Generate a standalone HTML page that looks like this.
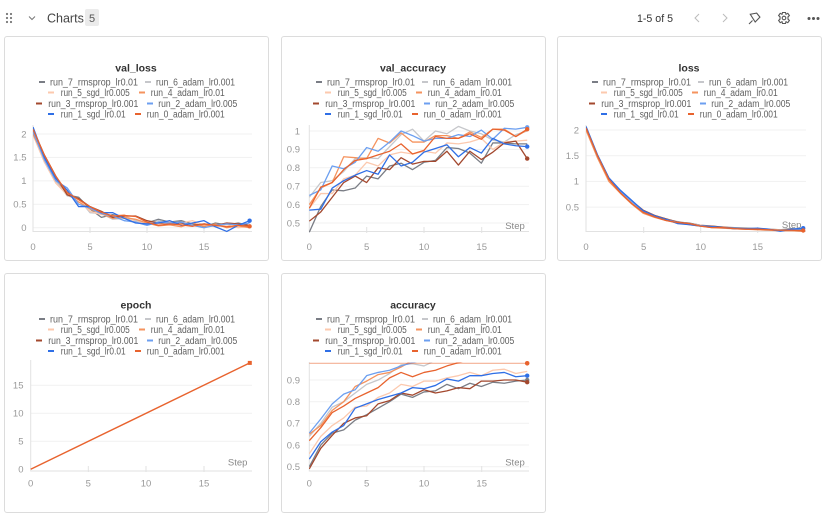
<!DOCTYPE html>
<html><head><meta charset="utf-8">
<style>
html,body{margin:0;padding:0;background:#fff;width:833px;height:493px;overflow:hidden;}
.p{position:absolute;box-sizing:border-box;width:265px;border:1px solid #dcdcdc;border-radius:3px;background:#fff;}
svg{position:absolute;left:0;top:0;}
text{font-family:"Liberation Sans",sans-serif;}
.lg{font-size:10px;fill:#5f5f5f;}
.tt{font-size:10.5px;font-weight:bold;fill:#333;}
.tk{font-size:9.5px;fill:#999;}
.st{font-size:9.5px;fill:#888;}
.d{fill:none;stroke-width:1.3;vector-effect:non-scaling-stroke;stroke-linejoin:round;}
</style></head>
<body>
<div class="p" style="left:4px;top:36px;height:225px"></div>
<div class="p" style="left:281px;top:36px;height:225px"></div>
<div class="p" style="left:557px;top:36px;height:225px"></div>
<div class="p" style="left:4px;top:273px;height:240px"></div>
<div class="p" style="left:281px;top:273px;height:240px"></div>

<svg width="833" height="493" viewBox="0 0 833 493" xmlns="http://www.w3.org/2000/svg">
<defs>
<clipPath id="c1"><rect x="33" y="120" width="221" height="113"/></clipPath>
<clipPath id="c2"><rect x="309" y="120" width="222" height="113"/></clipPath>
<clipPath id="c3"><rect x="586" y="120" width="222" height="113"/></clipPath>
<clipPath id="c4"><rect x="30" y="355" width="224" height="118"/></clipPath>
<clipPath id="c5"><rect x="309" y="362.5" width="222" height="110"/></clipPath>
</defs>

<!-- header -->
<g fill="#777">
<circle cx="7" cy="14" r="1.1"/><circle cx="11" cy="14" r="1.1"/>
<circle cx="7" cy="18" r="1.1"/><circle cx="11" cy="18" r="1.1"/>
<circle cx="7" cy="22" r="1.1"/><circle cx="11" cy="22" r="1.1"/>
</g>
<polyline points="29,16.5 32,19.5 35,16.5" fill="none" stroke="#777" stroke-width="1"/>
<text x="47" y="22.5" style="font-size:12.5px;fill:#444">Charts</text>
<rect x="85" y="9" width="14" height="17" rx="2" fill="#ebebeb"/>
<text x="92" y="22" text-anchor="middle" style="font-size:11px;fill:#555">5</text>
<text x="637" y="22" style="font-size:11px;fill:#333" textLength="36" lengthAdjust="spacingAndGlyphs">1-5 of 5</text>
<polyline points="699,14 695,18 699,22" fill="none" stroke="#bbb" stroke-width="1"/>
<polyline points="723,14 727,18 723,22" fill="none" stroke="#bbb" stroke-width="1"/>
<g fill="none" stroke="#555" stroke-width="1.1">
<path d="M751,13.5 L757.5,13.5 L760,18 L754.5,22 Z" transform="rotate(-10 755 18)"/>
<line x1="749" y1="24" x2="752.5" y2="20.5"/>
<path d="M782.5,12.5 L785.5,12.5 L786,14.3 L787.8,13.3 L789.4,15.5 L788,16.8 L788,19.2 L789.4,20.5 L787.8,22.7 L786,21.7 L785.5,23.5 L782.5,23.5 L782,21.7 L780.2,22.7 L778.6,20.5 L780,19.2 L780,16.8 L778.6,15.5 L780.2,13.3 L782,14.3 Z"/>
<circle cx="784" cy="18" r="1.8"/>
</g>
<g fill="#555"><circle cx="809" cy="18.5" r="1.5"/><circle cx="813.5" cy="18.5" r="1.5"/><circle cx="818" cy="18.5" r="1.5"/></g>

<!-- ============ PANEL 1 val_loss ============ -->
<g>
<text class="tt" x="136" y="71.5" text-anchor="middle">val_loss</text>
<rect x="39" y="81" width="6" height="2" fill="#7a7d85"/><text class="lg" x="50" y="85.5" textLength="88" lengthAdjust="spacingAndGlyphs">run_7_rmsprop_lr0.01</text>
<rect x="145" y="81" width="6" height="2" fill="#c6c7cb"/><text class="lg" x="156" y="85.5" textLength="79" lengthAdjust="spacingAndGlyphs">run_6_adam_lr0.001</text>
<rect x="48" y="91.5" width="6" height="2" fill="#fcc9ae"/><text class="lg" x="60.7" y="96" textLength="69" lengthAdjust="spacingAndGlyphs">run_5_sgd_lr0.005</text>
<rect x="139" y="91.5" width="6" height="2" fill="#f5935e"/><text class="lg" x="150.7" y="96" textLength="74" lengthAdjust="spacingAndGlyphs">run_4_adam_lr0.01</text>
<rect x="36" y="102.5" width="6" height="2" fill="#a3482e"/><text class="lg" x="48.3" y="107" textLength="90" lengthAdjust="spacingAndGlyphs">run_3_rmsprop_lr0.001</text>
<rect x="147" y="102.5" width="6" height="2" fill="#6c9ff0"/><text class="lg" x="158.3" y="107" textLength="79" lengthAdjust="spacingAndGlyphs">run_2_adam_lr0.005</text>
<rect x="48" y="113" width="6" height="2" fill="#2f6fe6"/><text class="lg" x="60.7" y="117.5" textLength="65" lengthAdjust="spacingAndGlyphs">run_1_sgd_lr0.01</text>
<rect x="135" y="113" width="6" height="2" fill="#e8632e"/><text class="lg" x="146.7" y="117.5" textLength="78" lengthAdjust="spacingAndGlyphs">run_0_adam_lr0.001</text>
</g>
<g stroke="#f1f1f1" stroke-width="1">
<line x1="33" y1="134" x2="252" y2="134"/><line x1="33" y1="157.4" x2="252" y2="157.4"/>
<line x1="33" y1="180.9" x2="252" y2="180.9"/><line x1="33" y1="204.3" x2="252" y2="204.3"/>
<line x1="33" y1="227.7" x2="252" y2="227.7"/>
</g>
<g stroke="#e2e2e2" stroke-width="1">
<line x1="33" y1="125" x2="33" y2="232"/><line x1="33" y1="231.5" x2="252" y2="231.5"/>
<line x1="90" y1="227" x2="90" y2="233"/><line x1="147" y1="227" x2="147" y2="233"/><line x1="204" y1="227" x2="204" y2="233"/>
</g>
<g class="tk" text-anchor="end">
<text x="26.5" y="137.3">2</text><text x="26.5" y="160.7">1.5</text><text x="26.5" y="184.2">1</text><text x="26.5" y="207.6">0.5</text><text x="26.5" y="231">0</text>
</g>
<g class="tk" text-anchor="middle">
<text x="33" y="250">0</text><text x="90" y="250">5</text><text x="147" y="250">10</text><text x="204" y="250">15</text>
</g>
<g clip-path="url(#c1)"><g transform="translate(33,227.7) scale(11.4,-46.85)">
<polyline class="d" stroke="#7a7d85" points="0,2.05 1,1.48 2,1.0 3,0.7 4,0.65 5,0.4 6,0.22 7,0.28 8,0.22 9,0.15 10,0.1 11,0.18 12,0.12 13,0.15 14,0.08 15,0.02 16,0.1 17,0.06 18,0.1 19,0.05"/>
<polyline class="d" stroke="#c6c7cb" points="0,2.0 1,1.4 2,1.0 3,0.68 4,0.62 5,0.32 6,0.3 7,0.18 8,0.2 9,0.15 10,0.1 11,0.15 12,0.1 13,0.12 14,0.06 15,0.04 16,0.05 17,0.1 18,0.08 19,0.02"/>
<polyline class="d" stroke="#fcc9ae" points="0,1.98 1,1.4 2,0.95 3,0.7 4,0.6 5,0.35 6,0.28 7,0.25 8,0.28 9,0.12 10,0.1 11,0.08 12,0.12 13,0.1 14,0.15 15,0.05 16,0.02 17,0.06 18,0.0 19,0.03"/>
<polyline class="d" stroke="#f5935e" points="0,2.0 1,1.5 2,1.05 3,0.72 4,0.55 5,0.4 6,0.3 7,0.2 8,0.22 9,0.18 10,0.1 11,0.04 12,0.06 13,0.02 14,0.1 15,0.03 16,0.08 17,0.0 18,0.04 19,0.0"/>
<polyline class="d" stroke="#a3482e" points="0,2.1 1,1.55 2,1.1 3,0.7 4,0.62 5,0.45 6,0.35 7,0.22 8,0.25 9,0.25 10,0.15 11,0.1 12,0.1 13,0.1 14,0.05 15,0.08 16,0.05 17,0.1 18,0.08 19,0.05"/>
<polyline class="d" stroke="#6c9ff0" points="0,2.05 1,1.45 2,1.0 3,0.85 4,0.5 5,0.42 6,0.3 7,0.25 8,0.15 9,0.12 10,0.05 11,0.12 12,0.1 13,0.12 14,0.05 15,0.0 16,0.05 17,0.08 18,0.06 19,0.1"/>
<polyline class="d" stroke="#2f6fe6" points="0,2.15 1,1.5 2,1.05 3,0.8 4,0.45 5,0.45 6,0.32 7,0.32 8,0.2 9,0.1 10,0.08 11,0.1 12,0.15 13,0.05 14,0.1 15,0.15 16,0.02 17,-0.08 18,0.05 19,0.15"/>
<polyline class="d" stroke="#e8632e" points="0,2.1 1,1.55 2,1.1 3,0.75 4,0.6 5,0.45 6,0.33 7,0.25 8,0.26 9,0.24 10,0.12 11,0.05 12,0.08 13,0.06 14,0.03 15,0.08 16,0.05 17,0.02 18,0.05 19,0.03"/>
</g></g>
<circle cx="249.6" cy="220.7" r="2.2" fill="#2f6fe6"/>
<circle cx="249.6" cy="226.3" r="2.2" fill="#e8632e"/>

<!-- ============ PANEL 2 val_accuracy ============ -->
<g transform="translate(277,0)">
<text class="tt" x="136" y="71.5" text-anchor="middle">val_accuracy</text>
<rect x="39" y="81" width="6" height="2" fill="#7a7d85"/><text class="lg" x="50" y="85.5" textLength="88" lengthAdjust="spacingAndGlyphs">run_7_rmsprop_lr0.01</text>
<rect x="145" y="81" width="6" height="2" fill="#c6c7cb"/><text class="lg" x="156" y="85.5" textLength="79" lengthAdjust="spacingAndGlyphs">run_6_adam_lr0.001</text>
<rect x="48" y="91.5" width="6" height="2" fill="#fcc9ae"/><text class="lg" x="60.7" y="96" textLength="69" lengthAdjust="spacingAndGlyphs">run_5_sgd_lr0.005</text>
<rect x="139" y="91.5" width="6" height="2" fill="#f5935e"/><text class="lg" x="150.7" y="96" textLength="74" lengthAdjust="spacingAndGlyphs">run_4_adam_lr0.01</text>
<rect x="36" y="102.5" width="6" height="2" fill="#a3482e"/><text class="lg" x="48.3" y="107" textLength="90" lengthAdjust="spacingAndGlyphs">run_3_rmsprop_lr0.001</text>
<rect x="147" y="102.5" width="6" height="2" fill="#6c9ff0"/><text class="lg" x="158.3" y="107" textLength="79" lengthAdjust="spacingAndGlyphs">run_2_adam_lr0.005</text>
<rect x="48" y="113" width="6" height="2" fill="#2f6fe6"/><text class="lg" x="60.7" y="117.5" textLength="65" lengthAdjust="spacingAndGlyphs">run_1_sgd_lr0.01</text>
<rect x="135" y="113" width="6" height="2" fill="#e8632e"/><text class="lg" x="146.7" y="117.5" textLength="78" lengthAdjust="spacingAndGlyphs">run_0_adam_lr0.001</text>
</g>
<g stroke="#f1f1f1" stroke-width="1">
<line x1="309.3" y1="131" x2="529" y2="131"/><line x1="309.3" y1="149.4" x2="529" y2="149.4"/>
<line x1="309.3" y1="167.8" x2="529" y2="167.8"/><line x1="309.3" y1="186.2" x2="529" y2="186.2"/>
<line x1="309.3" y1="204.6" x2="529" y2="204.6"/><line x1="309.3" y1="223" x2="529" y2="223"/>
</g>
<g stroke="#e2e2e2" stroke-width="1">
<line x1="309.3" y1="125" x2="309.3" y2="232"/><line x1="309.3" y1="231.5" x2="529" y2="231.5"/>
<line x1="366.7" y1="227" x2="366.7" y2="233"/><line x1="424" y1="227" x2="424" y2="233"/><line x1="481.7" y1="227" x2="481.7" y2="233"/>
</g>
<g class="tk" text-anchor="end">
<text x="300" y="134.3">1</text><text x="300" y="152.7">0.9</text><text x="300" y="171.1">0.8</text><text x="300" y="189.5">0.7</text><text x="300" y="207.9">0.6</text><text x="300" y="226.3">0.5</text>
</g>
<g class="tk" text-anchor="middle">
<text x="309.3" y="250">0</text><text x="366.7" y="250">5</text><text x="424" y="250">10</text><text x="481.7" y="250">15</text>
</g>
<text class="st" x="515" y="229" text-anchor="middle">Step</text>
<g clip-path="url(#c2)"><g transform="translate(309.3,315) scale(11.47,-184)">
<polyline class="d" stroke="#7a7d85" points="0,0.45 1,0.59 2,0.68 3,0.675 4,0.69 5,0.755 6,0.74 7,0.81 8,0.825 9,0.79 10,0.83 11,0.84 12,0.91 13,0.905 14,0.88 15,0.825 16,0.935 17,0.935 18,0.93 19,0.93"/>
<polyline class="d" stroke="#c6c7cb" points="0,0.64 1,0.72 2,0.73 3,0.78 4,0.85 5,0.855 6,0.85 7,0.915 8,0.98 9,1.01 10,0.945 11,1.0 12,0.985 13,1.025 14,1.0 15,0.985 16,0.95 17,0.94 18,0.98 19,1.0"/>
<polyline class="d" stroke="#fcc9ae" points="0,0.58 1,0.66 2,0.66 3,0.74 4,0.76 5,0.83 6,0.81 7,0.87 8,0.885 9,0.875 10,0.89 11,0.88 12,0.935 13,0.93 14,0.94 15,0.96 16,0.9 17,0.94 18,0.945 19,0.95"/>
<polyline class="d" stroke="#f5935e" points="0,0.6 1,0.69 2,0.72 3,0.86 4,0.855 5,0.85 6,0.96 7,0.935 8,0.99 9,0.94 10,0.94 11,0.975 12,0.975 13,0.96 14,0.995 15,0.965 16,1.01 17,1.01 18,0.97 19,1.005"/>
<polyline class="d" stroke="#a3482e" points="0,0.51 1,0.56 2,0.64 3,0.72 4,0.755 5,0.72 6,0.8 7,0.79 8,0.855 9,0.82 10,0.835 11,0.835 12,0.89 13,0.815 14,0.89 15,0.845 16,0.885 17,0.935 18,0.945 19,0.85"/>
<polyline class="d" stroke="#6c9ff0" points="0,0.65 1,0.68 2,0.81 3,0.795 4,0.83 5,0.91 6,0.89 7,0.94 8,1.0 9,0.975 10,0.945 11,0.96 12,0.96 13,0.98 14,0.97 15,1.005 16,0.955 17,1.015 18,1.01 19,1.02"/>
<polyline class="d" stroke="#2f6fe6" points="0,0.57 1,0.575 2,0.69 3,0.73 4,0.76 5,0.785 6,0.765 7,0.87 8,0.81 9,0.83 10,0.885 11,0.905 12,0.925 13,0.86 14,0.91 15,0.88 16,0.96 17,0.93 18,0.92 19,0.915"/>
<polyline class="d" stroke="#e8632e" points="0,0.58 1,0.695 2,0.72 3,0.79 4,0.84 5,0.85 6,0.87 7,0.89 8,0.93 9,0.875 10,0.895 11,0.97 12,0.96 13,0.96 14,0.985 15,0.955 16,1.01 17,1.005 18,0.97 19,1.01"/>
</g></g>
<circle cx="527.2" cy="127.3" r="2.2" fill="#6c9ff0"/>
<circle cx="527.2" cy="129.2" r="2.2" fill="#e8632e"/>
<circle cx="527.2" cy="146.6" r="2.2" fill="#2f6fe6"/>
<circle cx="527.2" cy="158.6" r="2.2" fill="#a3482e"/>

<!-- ============ PANEL 3 loss ============ -->
<g transform="translate(553,0)">
<text class="tt" x="136" y="71.5" text-anchor="middle">loss</text>
<rect x="39" y="81" width="6" height="2" fill="#7a7d85"/><text class="lg" x="50" y="85.5" textLength="88" lengthAdjust="spacingAndGlyphs">run_7_rmsprop_lr0.01</text>
<rect x="145" y="81" width="6" height="2" fill="#c6c7cb"/><text class="lg" x="156" y="85.5" textLength="79" lengthAdjust="spacingAndGlyphs">run_6_adam_lr0.001</text>
<rect x="48" y="91.5" width="6" height="2" fill="#fcc9ae"/><text class="lg" x="60.7" y="96" textLength="69" lengthAdjust="spacingAndGlyphs">run_5_sgd_lr0.005</text>
<rect x="139" y="91.5" width="6" height="2" fill="#f5935e"/><text class="lg" x="150.7" y="96" textLength="74" lengthAdjust="spacingAndGlyphs">run_4_adam_lr0.01</text>
<rect x="36" y="102.5" width="6" height="2" fill="#a3482e"/><text class="lg" x="48.3" y="107" textLength="90" lengthAdjust="spacingAndGlyphs">run_3_rmsprop_lr0.001</text>
<rect x="147" y="102.5" width="6" height="2" fill="#6c9ff0"/><text class="lg" x="158.3" y="107" textLength="79" lengthAdjust="spacingAndGlyphs">run_2_adam_lr0.005</text>
<rect x="48" y="113" width="6" height="2" fill="#2f6fe6"/><text class="lg" x="60.7" y="117.5" textLength="65" lengthAdjust="spacingAndGlyphs">run_1_sgd_lr0.01</text>
<rect x="135" y="113" width="6" height="2" fill="#e8632e"/><text class="lg" x="146.7" y="117.5" textLength="78" lengthAdjust="spacingAndGlyphs">run_0_adam_lr0.001</text>
</g>
<g stroke="#f1f1f1" stroke-width="1">
<line x1="586" y1="130" x2="806" y2="130"/><line x1="586" y1="155.7" x2="806" y2="155.7"/>
<line x1="586" y1="181.4" x2="806" y2="181.4"/><line x1="586" y1="207.1" x2="806" y2="207.1"/>
</g>
<g stroke="#e2e2e2" stroke-width="1">
<line x1="586" y1="125" x2="586" y2="232"/><line x1="586" y1="231.5" x2="806" y2="231.5"/>
<line x1="643.7" y1="227" x2="643.7" y2="233"/><line x1="700.7" y1="227" x2="700.7" y2="233"/><line x1="757.7" y1="227" x2="757.7" y2="233"/>
</g>
<g class="tk" text-anchor="end">
<text x="579" y="133.3">2</text><text x="579" y="159">1.5</text><text x="579" y="184.7">1</text><text x="579" y="210.4">0.5</text>
</g>
<g class="tk" text-anchor="middle">
<text x="586" y="250">0</text><text x="643.7" y="250">5</text><text x="700.7" y="250">10</text><text x="757.7" y="250">15</text>
</g>
<text class="st" x="791.7" y="228" text-anchor="middle">Step</text>
<g clip-path="url(#c3)"><g transform="translate(586,232.8) scale(11.43,-51.4)">
<polyline class="d" stroke="#7a7d85" points="0,2.04 1,1.49 2,1.04 3,0.79 4,0.61 5,0.43 6,0.33 7,0.27 8,0.21 9,0.19 10,0.15 11,0.13 12,0.11 13,0.1 14,0.09 15,0.08 16,0.07 17,0.06 18,0.08 19,0.06"/>
<polyline class="d" stroke="#c6c7cb" points="0,2.03 1,1.48 2,1.03 3,0.8 4,0.6 5,0.41 6,0.32 7,0.26 8,0.22 9,0.18 10,0.14 11,0.12 12,0.11 13,0.09 14,0.08 15,0.07 16,0.06 17,0.06 18,0.05 19,0.05"/>
<polyline class="d" stroke="#fcc9ae" points="0,2.02 1,1.47 2,1.02 3,0.78 4,0.58 5,0.4 6,0.31 7,0.25 8,0.19 9,0.18 10,0.15 11,0.11 12,0.1 13,0.08 14,0.08 15,0.06 16,0.07 17,0.05 18,0.04 19,0.03"/>
<polyline class="d" stroke="#f5935e" points="0,2.0 1,1.46 2,1.0 3,0.77 4,0.56 5,0.38 6,0.3 7,0.24 8,0.19 9,0.16 10,0.13 11,0.1 12,0.09 13,0.08 14,0.07 15,0.06 16,0.05 17,0.04 18,0.04 19,0.03"/>
<polyline class="d" stroke="#a3482e" points="0,2.06 1,1.51 2,1.06 3,0.81 4,0.62 5,0.44 6,0.34 7,0.27 8,0.21 9,0.18 10,0.14 11,0.13 12,0.11 13,0.09 14,0.08 15,0.07 16,0.06 17,0.05 18,0.05 19,0.04"/>
<polyline class="d" stroke="#6c9ff0" points="0,2.05 1,1.5 2,1.05 3,0.81 4,0.61 5,0.42 6,0.33 7,0.26 8,0.2 9,0.17 10,0.14 11,0.12 12,0.1 13,0.09 14,0.08 15,0.08 16,0.06 17,0.05 18,0.05 19,0.05"/>
<polyline class="d" stroke="#2f6fe6" points="0,2.07 1,1.52 2,1.07 3,0.83 4,0.63 5,0.43 6,0.33 7,0.26 8,0.18 9,0.16 10,0.13 11,0.12 12,0.1 13,0.08 14,0.08 15,0.09 16,0.07 17,0.03 18,0.07 19,0.09"/>
<polyline class="d" stroke="#e8632e" points="0,2.04 1,1.5 2,1.04 3,0.78 4,0.57 5,0.4 6,0.31 7,0.24 8,0.2 9,0.18 10,0.13 11,0.1 12,0.1 13,0.08 14,0.07 15,0.07 16,0.06 17,0.05 18,0.05 19,0.04"/>
</g></g>
<circle cx="803.2" cy="228.2" r="2.2" fill="#2f6fe6"/>
<circle cx="803.2" cy="230.5" r="2.2" fill="#e8632e"/>

<!-- ============ PANEL 4 epoch ============ -->
<g transform="translate(0,237)">
<text class="tt" x="136" y="71.5" text-anchor="middle">epoch</text>
<rect x="39" y="81" width="6" height="2" fill="#7a7d85"/><text class="lg" x="50" y="85.5" textLength="88" lengthAdjust="spacingAndGlyphs">run_7_rmsprop_lr0.01</text>
<rect x="145" y="81" width="6" height="2" fill="#c6c7cb"/><text class="lg" x="156" y="85.5" textLength="79" lengthAdjust="spacingAndGlyphs">run_6_adam_lr0.001</text>
<rect x="48" y="91.5" width="6" height="2" fill="#fcc9ae"/><text class="lg" x="60.7" y="96" textLength="69" lengthAdjust="spacingAndGlyphs">run_5_sgd_lr0.005</text>
<rect x="139" y="91.5" width="6" height="2" fill="#f5935e"/><text class="lg" x="150.7" y="96" textLength="74" lengthAdjust="spacingAndGlyphs">run_4_adam_lr0.01</text>
<rect x="36" y="102.5" width="6" height="2" fill="#a3482e"/><text class="lg" x="48.3" y="107" textLength="90" lengthAdjust="spacingAndGlyphs">run_3_rmsprop_lr0.001</text>
<rect x="147" y="102.5" width="6" height="2" fill="#6c9ff0"/><text class="lg" x="158.3" y="107" textLength="79" lengthAdjust="spacingAndGlyphs">run_2_adam_lr0.005</text>
<rect x="48" y="113" width="6" height="2" fill="#2f6fe6"/><text class="lg" x="60.7" y="117.5" textLength="65" lengthAdjust="spacingAndGlyphs">run_1_sgd_lr0.01</text>
<rect x="135" y="113" width="6" height="2" fill="#e8632e"/><text class="lg" x="146.7" y="117.5" textLength="78" lengthAdjust="spacingAndGlyphs">run_0_adam_lr0.001</text>
</g>
<g stroke="#f1f1f1" stroke-width="1">
<line x1="30.7" y1="385.3" x2="252" y2="385.3"/><line x1="30.7" y1="413.3" x2="252" y2="413.3"/>
<line x1="30.7" y1="441.3" x2="252" y2="441.3"/>
</g>
<g stroke="#e2e2e2" stroke-width="1">
<line x1="30.7" y1="360" x2="30.7" y2="471.5"/><line x1="30.7" y1="471" x2="252" y2="471"/>
<line x1="88.3" y1="466" x2="88.3" y2="472"/><line x1="146" y1="466" x2="146" y2="472"/><line x1="204" y1="466" x2="204" y2="472"/>
</g>
<g class="tk" text-anchor="end">
<text x="23.5" y="388.6">15</text><text x="23.5" y="416.6">10</text><text x="23.5" y="444.6">5</text><text x="23.5" y="472.6">0</text>
</g>
<g class="tk" text-anchor="middle">
<text x="30.7" y="486.5">0</text><text x="88.3" y="486.5">5</text><text x="146" y="486.5">10</text><text x="204" y="486.5">15</text>
</g>
<text class="st" x="237.7" y="465.5" text-anchor="middle">Step</text>
<g clip-path="url(#c4)">
<line x1="30.7" y1="469.3" x2="249.8" y2="362.9" stroke="#e8632e" stroke-width="1.4"/>
</g>
<rect x="247.8" y="360.9" width="4" height="4" fill="#e8632e"/>

<!-- ============ PANEL 5 accuracy ============ -->
<g transform="translate(277,237)">
<text class="tt" x="136" y="71.5" text-anchor="middle">accuracy</text>
<rect x="39" y="81" width="6" height="2" fill="#7a7d85"/><text class="lg" x="50" y="85.5" textLength="88" lengthAdjust="spacingAndGlyphs">run_7_rmsprop_lr0.01</text>
<rect x="145" y="81" width="6" height="2" fill="#c6c7cb"/><text class="lg" x="156" y="85.5" textLength="79" lengthAdjust="spacingAndGlyphs">run_6_adam_lr0.001</text>
<rect x="48" y="91.5" width="6" height="2" fill="#fcc9ae"/><text class="lg" x="60.7" y="96" textLength="69" lengthAdjust="spacingAndGlyphs">run_5_sgd_lr0.005</text>
<rect x="139" y="91.5" width="6" height="2" fill="#f5935e"/><text class="lg" x="150.7" y="96" textLength="74" lengthAdjust="spacingAndGlyphs">run_4_adam_lr0.01</text>
<rect x="36" y="102.5" width="6" height="2" fill="#a3482e"/><text class="lg" x="48.3" y="107" textLength="90" lengthAdjust="spacingAndGlyphs">run_3_rmsprop_lr0.001</text>
<rect x="147" y="102.5" width="6" height="2" fill="#6c9ff0"/><text class="lg" x="158.3" y="107" textLength="79" lengthAdjust="spacingAndGlyphs">run_2_adam_lr0.005</text>
<rect x="48" y="113" width="6" height="2" fill="#2f6fe6"/><text class="lg" x="60.7" y="117.5" textLength="65" lengthAdjust="spacingAndGlyphs">run_1_sgd_lr0.01</text>
<rect x="135" y="113" width="6" height="2" fill="#e8632e"/><text class="lg" x="146.7" y="117.5" textLength="78" lengthAdjust="spacingAndGlyphs">run_0_adam_lr0.001</text>
</g>
<g stroke="#f1f1f1" stroke-width="1">
<line x1="309.3" y1="380" x2="529" y2="380"/><line x1="309.3" y1="401.7" x2="529" y2="401.7"/>
<line x1="309.3" y1="423.3" x2="529" y2="423.3"/><line x1="309.3" y1="445" x2="529" y2="445"/>
<line x1="309.3" y1="466.7" x2="529" y2="466.7"/>
</g>
<g stroke="#e2e2e2" stroke-width="1">
<line x1="309.3" y1="362" x2="309.3" y2="471.5"/><line x1="309.3" y1="471" x2="529" y2="471"/>
<line x1="366.7" y1="466" x2="366.7" y2="472"/><line x1="424" y1="466" x2="424" y2="472"/><line x1="481.7" y1="466" x2="481.7" y2="472"/>
</g>
<g class="tk" text-anchor="end">
<text x="300" y="383.3">0.9</text><text x="300" y="405">0.8</text><text x="300" y="426.6">0.7</text><text x="300" y="448.3">0.6</text><text x="300" y="470">0.5</text>
</g>
<g class="tk" text-anchor="middle">
<text x="309.3" y="486.5">0</text><text x="366.7" y="486.5">5</text><text x="424" y="486.5">10</text><text x="481.7" y="486.5">15</text>
</g>
<text class="st" x="515" y="465.5" text-anchor="middle">Step</text>
<g clip-path="url(#c5)"><g transform="translate(309.3,575.05) scale(11.47,-216.7)">
<polyline class="d" stroke="#7a7d85" points="0,0.5 1,0.6 2,0.655 3,0.67 4,0.715 5,0.74 6,0.77 7,0.8 8,0.835 9,0.82 10,0.845 11,0.85 12,0.88 13,0.86 14,0.885 15,0.87 16,0.89 17,0.885 18,0.895 19,0.9"/>
<polyline class="d" stroke="#c6c7cb" points="0,0.64 1,0.7 2,0.775 3,0.8 4,0.84 5,0.88 6,0.9 7,0.93 8,0.97 9,0.975 10,0.965 11,0.99 12,1.0 13,1.0 14,1.0 15,1.0 16,1.0 17,1.0 18,1.0 19,1.0"/>
<polyline class="d" stroke="#fcc9ae" points="0,0.56 1,0.64 2,0.69 3,0.725 4,0.775 5,0.78 6,0.82 7,0.84 8,0.88 9,0.87 10,0.895 11,0.895 12,0.91 13,0.92 14,0.935 15,0.92 16,0.945 17,0.95 18,0.93 19,0.94"/>
<polyline class="d" stroke="#f5935e" points="0,0.65 1,0.69 2,0.76 3,0.8 4,0.87 5,0.895 6,0.925 7,0.935 8,0.96 9,0.99 10,1.0 11,1.0 12,1.0 13,1.0 14,1.0 15,1.0 16,1.0 17,1.0 18,1.0 19,1.0"/>
<polyline class="d" stroke="#a3482e" points="0,0.49 1,0.585 2,0.645 3,0.7 4,0.725 5,0.735 6,0.79 7,0.805 8,0.84 9,0.83 10,0.855 11,0.84 12,0.85 13,0.865 14,0.86 15,0.895 16,0.895 17,0.9 18,0.9 19,0.89"/>
<polyline class="d" stroke="#6c9ff0" points="0,0.655 1,0.72 2,0.79 3,0.835 4,0.855 5,0.92 6,0.935 7,0.945 8,0.965 9,0.98 10,0.99 11,1.0 12,1.0 13,1.0 14,1.0 15,1.0 16,1.0 17,1.0 18,1.0 19,1.0"/>
<polyline class="d" stroke="#2f6fe6" points="0,0.535 1,0.615 2,0.66 3,0.69 4,0.77 5,0.79 6,0.81 7,0.825 8,0.84 9,0.865 10,0.86 11,0.875 12,0.905 13,0.895 14,0.92 15,0.92 16,0.93 17,0.935 18,0.915 19,0.92"/>
<polyline class="d" stroke="#e8632e" points="0,0.62 1,0.68 2,0.75 3,0.78 4,0.815 5,0.84 6,0.865 7,0.91 8,0.935 9,0.915 10,0.935 11,0.945 12,0.965 13,0.98 14,0.99 15,1.0 16,1.0 17,1.0 18,1.0 19,1.0"/>
</g></g>
<line x1="309.3" y1="363.3" x2="527.2" y2="363.3" stroke="#e8632e" stroke-width="1.2" opacity="0.5"/>
<circle cx="527.2" cy="363.3" r="2.3" fill="#e8632e"/>
<circle cx="527.2" cy="375.7" r="2.2" fill="#2f6fe6"/>
<circle cx="527.2" cy="380" r="2.2" fill="#7a7d85"/>
<circle cx="527.2" cy="382.2" r="2.2" fill="#a3482e"/>
</svg>
</body></html>
